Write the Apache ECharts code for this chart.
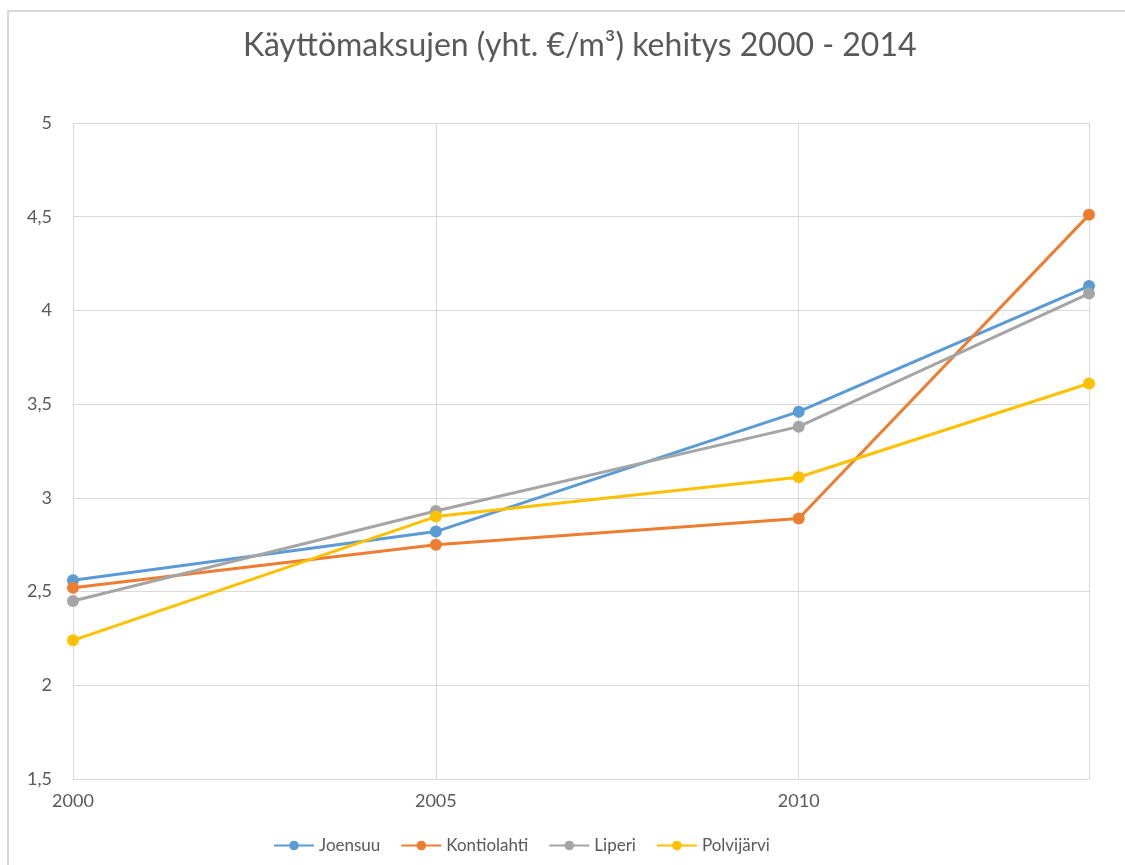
<!DOCTYPE html>
<html>
<head>
<meta charset="utf-8">
<script src="https://cdn.jsdelivr.net/npm/echarts@6/dist/echarts.min.js"></script>
<style>
html,body{margin:0;padding:0;background:#fff;}
#wrap{position:relative;width:1125px;height:865px;overflow:hidden;}
#chart{width:1125px;height:865px;}
#frame{position:absolute;left:7px;top:10px;right:-4px;bottom:-4px;border-left:2px solid #d9d9d9;border-top:2px solid #d9d9d9;pointer-events:none;z-index:5;}
</style>
</head>
<body>
<div id="wrap">
<div id="chart"></div>
<div id="frame"></div>
</div>
<script>
const years = [2000, 2005, 2010, 2014];
const joensuu = [2.56, 2.82, 3.46, 4.13];
const kontiolahti = [2.52, 2.75, 2.89, 4.51];
const liperi = [2.45, 2.93, 3.38, 4.09];
const polvijarvi = [2.24, 2.90, 3.11, 3.61];
const seriesNames = ['Joensuu', 'Kontiolahti', 'Liperi', 'Polvijärvi'];
const colors = ['#5B9BD5', '#ED7D31', '#A5A5A5', '#FFC000'];
const titleText = 'Käyttömaksujen (yht. €/m³) kehitys 2000 - 2014';

const allValues = [joensuu, kontiolahti, liperi, polvijarvi];
const font = 'Lato, "Open Sans", sans-serif';
const gridColor = '#d9d9d9';

const chart = echarts.init(document.getElementById('chart'));
chart.setOption({
  backgroundColor: '#fff',
  animation: false,
  color: colors,
  title: {
    text: titleText,
    left: 238,
    top: 25,
    textStyle: {fontFamily: font, fontSize: 32, fontWeight: 'normal', color: '#595959'}
  },
  legend: {
    bottom: 6,
    left: 268,
    itemWidth: 40,
    itemHeight: 12,
    itemGap: 20,
    textStyle: {fontFamily: font, fontSize: 17, color: '#595959'},
    data: seriesNames
  },
  grid: {left: 73, right: 36, top: 123, bottom: 86},
  xAxis: {
    type: 'value',
    min: 2000, max: 2014, interval: 5,
    axisLine: {show: true, lineStyle: {color: gridColor, width: 1}},
    axisTick: {show: false},
    axisLabel: {fontFamily: font, fontSize: 18, color: '#595959', margin: 13,
      formatter: v => (v % 5 === 0 ? String(v) : '')},
    splitLine: {show: true, lineStyle: {color: gridColor, width: 1}}
  },
  yAxis: {
    type: 'value',
    min: 1.5, max: 5, interval: 0.5,
    axisLine: {show: false},
    axisTick: {show: false},
    axisLabel: {fontFamily: font, fontSize: 18, color: '#595959', margin: 21,
      formatter: v => String(v).replace('.', ',')},
    splitLine: {show: true, lineStyle: {color: gridColor, width: 1}}
  },
  series: seriesNames.map((name, i) => ({
    name: name,
    type: 'line',
    data: years.map((y, j) => [y, allValues[i][j]]),
    symbol: 'circle',
    symbolSize: 12,
    lineStyle: {width: 3, color: colors[i]},
    itemStyle: {color: colors[i]}
  }))
});

// The reference has no vertical gridline at the right end of the x axis (2014, not a tick year).
function hideRightEdgeLine() {
  const zr = chart.getZr();
  const xRight = chart.convertToPixel({xAxisIndex: 0}, years[years.length - 1]);
  zr.storage.getDisplayList(true).forEach(el => {
    try {
      if (!el.getBoundingRect) return;
      const r = el.getBoundingRect().clone();
      const m = el.getComputedTransform ? el.getComputedTransform() : el.transform;
      if (m) r.applyTransform(m);
      if (r.width < 4 && r.height > 300 && Math.abs(r.x + r.width / 2 - xRight) < 3) {
        el.ignore = true;
      }
    } catch (e) {}
  });
  zr.refresh();
}
hideRightEdgeLine();
chart.on('finished', hideRightEdgeLine);
</script>
</body>
</html>
